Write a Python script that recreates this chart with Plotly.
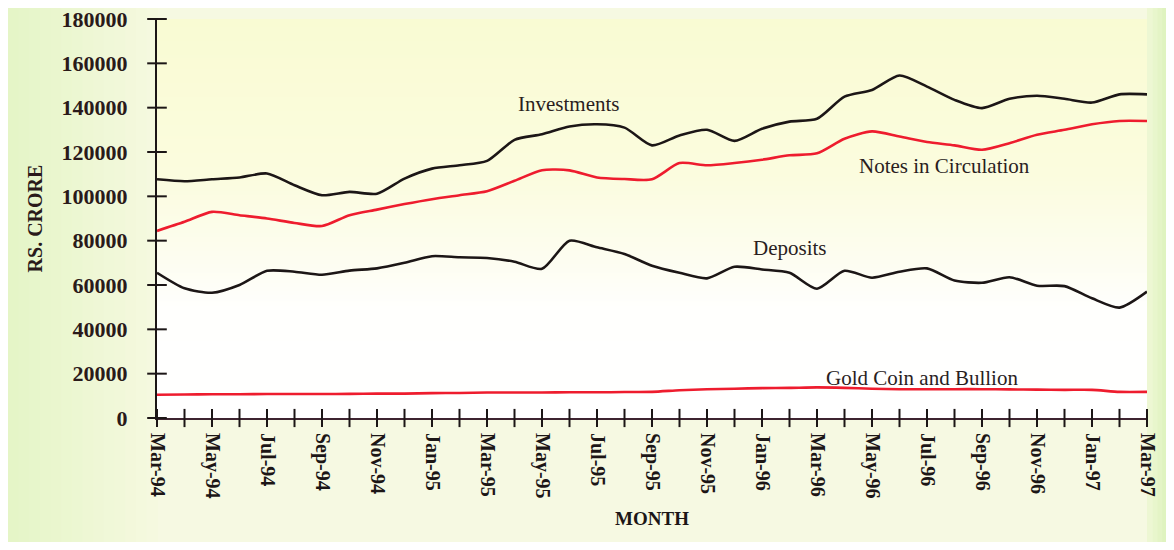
import plotly.graph_objects as go

months = ['Mar-94', 'Apr-94', 'May-94', 'Jun-94', 'Jul-94', 'Aug-94', 'Sep-94', 'Oct-94', 'Nov-94',
          'Dec-94', 'Jan-95', 'Feb-95', 'Mar-95', 'Apr-95', 'May-95', 'Jun-95', 'Jul-95', 'Aug-95',
          'Sep-95', 'Oct-95', 'Nov-95', 'Dec-95', 'Jan-96', 'Feb-96', 'Mar-96', 'Apr-96', 'May-96',
          'Jun-96', 'Jul-96', 'Aug-96', 'Sep-96', 'Oct-96', 'Nov-96', 'Dec-96', 'Jan-97', 'Feb-97',
          'Mar-97']

investments = [107700, 106800, 107700, 108500, 110300, 105000, 100500, 102000, 101200, 108000,
               112500, 114000, 116000, 125500, 128000, 131500, 132500, 131000, 123000, 127500,
               130000, 125000, 130500, 133700, 135000, 145000, 148000, 154500, 149500, 143500,
               139800, 144000, 145400, 144000, 142300, 146000, 146000]

notes = [84400, 88500, 93000, 91500, 90000, 88000, 86600, 91500, 94000, 96500,
         98700, 100500, 102300, 107000, 111800, 111700, 108500, 107800, 107700, 115000,
         114000, 115000, 116500, 118500, 119400, 126000, 129300, 127000, 124500, 123000,
         121000, 124000, 127800, 130000, 132500, 134000, 134000]

deposits = [65500, 58500, 56500, 60000, 66400, 66000, 64600, 66500, 67500, 70000,
            73000, 72500, 72200, 70500, 67300, 80000, 77000, 74000, 68700, 65500,
            63000, 68200, 67000, 65500, 58300, 66400, 63300, 66000, 67500, 62000,
            61000, 63500, 59700, 59500, 54000, 49800, 57000]

gold = [10500, 10600, 10700, 10700, 10800, 10800, 10800, 10900, 11000, 11000,
        11200, 11300, 11500, 11500, 11500, 11600, 11600, 11700, 11800, 12500,
        13000, 13200, 13500, 13600, 13800, 13600, 13200, 13000, 13000, 13000,
        13000, 12900, 12800, 12700, 12700, 11800, 11800]

y_ticks = [0, 20000, 40000, 60000, 80000, 100000, 120000, 140000, 160000, 180000]
y_tick_text = ['0', '20000', '40000', '60000', '80000', '100000', '120000', '140000',
               '160000', '180000']

series_labels = ['Investments', 'Notes in Circulation', 'Deposits', 'Gold Coin and Bullion']
label_x = [14.95, 28.65, 23.0, 27.8]
label_y = [141800, 113600, 76700, 17900]

xi = list(range(len(months)))
tick_text = [m if i % 2 == 0 else '' for i, m in enumerate(months)]

SERIF = 'Liberation Serif'
DARK = '#1c1616'
RED = '#ee1c2e'

W, H = 1158, 534
ML, MR, MT, MB = 149, 19, 11, 124
PW, PH = W - ML - MR, H - MT - MB


def mix(c1, c2, t):
    a = [int(c1[i:i + 2], 16) for i in (1, 3, 5)]
    b = [int(c2[i:i + 2], 16) for i in (1, 3, 5)]
    return '#' + ''.join('%02x' % round(a[k] + (b[k] - a[k]) * t) for k in range(3))


# paper background: greenish side strips fading into cream (scanned page look)
shapes = []
n = 14
for k in range(n):
    x0 = k * ML / n
    x1 = (k + 1) * ML / n + 1
    shapes.append(dict(type='rect', xref='paper', yref='paper', layer='below', line_width=0,
                       x0=(x0 - ML) / PW, x1=(x1 - ML) / PW, y0=-MB / PH, y1=1 + MT / PH,
                       fillcolor=mix('#e5f5c7', '#f5f9df', k / (n - 1))))
for k in range(4):
    x0 = W - (k + 1) * MR / 4
    x1 = W - k * MR / 4 + 1
    shapes.append(dict(type='rect', xref='paper', yref='paper', layer='below', line_width=0,
                       x0=(x0 - ML) / PW, x1=(x1 - ML) / PW, y0=-MB / PH, y1=1 + MT / PH,
                       fillcolor=mix('#dff3bf', '#edf7d3', k / 3)))

fig = go.Figure()

# background gradient of the plot area (pale yellow fading to white)
fig.add_trace(go.Heatmap(
    x=[0, 36], y=[0, 50000, 72000, 110000, 180000],
    z=[[0, 0], [0.05, 0.05], [0.35, 0.35], [0.8, 0.8], [1, 1]],
    colorscale=[[0, '#ffffff'], [0.35, '#fdfdf0'], [0.8, '#fbfcde'], [1, '#f9fbd3']],
    zsmooth='best', showscale=False, hoverinfo='skip'))

line_w = 2.6
fig.add_trace(go.Scatter(x=xi, y=investments, mode='lines', name='Investments',
                         line=dict(color=DARK, width=line_w, shape='spline', smoothing=0.7)))
fig.add_trace(go.Scatter(x=xi, y=notes, mode='lines', name='Notes in Circulation',
                         line=dict(color=RED, width=line_w, shape='spline', smoothing=0.7)))
fig.add_trace(go.Scatter(x=xi, y=deposits, mode='lines', name='Deposits',
                         line=dict(color=DARK, width=line_w, shape='spline', smoothing=0.7)))
fig.add_trace(go.Scatter(x=xi, y=gold, mode='lines', name='Gold Coin and Bullion',
                         line=dict(color=RED, width=line_w, shape='spline', smoothing=0.7)))

# cross-shaped tick marks straddling both axes
fig.add_trace(go.Scatter(x=xi, y=[0] * len(xi), mode='markers', cliponaxis=False,
                         hoverinfo='skip', showlegend=False,
                         marker=dict(symbol='line-ns-open', size=13, color=DARK,
                                     line=dict(color=DARK, width=2))))
fig.add_trace(go.Scatter(x=[0] * len(y_ticks), y=y_ticks, mode='markers', cliponaxis=False,
                         hoverinfo='skip', showlegend=False,
                         marker=dict(symbol='line-ew-open', size=14, color=DARK,
                                     line=dict(color=DARK, width=2))))

for t, ax, ay in zip(series_labels, label_x, label_y):
    fig.add_annotation(x=ax, y=ay, text=t, showarrow=False,
                       font=dict(family=SERIF, size=21, color='#2a1e1e'))

fig.update_layout(
    width=W, height=H,
    margin=dict(l=ML, r=MR, t=MT, b=MB, autoexpand=False),
    paper_bgcolor='#f6f9e2', plot_bgcolor='#ffffff',
    showlegend=False,
    shapes=shapes,
    xaxis=dict(range=[0, 36], tickvals=xi, ticktext=tick_text, tickangle=90,
               ticks='', automargin=False, ticklabeloverflow='allow', ticklabelstandoff=9,
               showline=True, linecolor='#3e2430', linewidth=2, showgrid=False, zeroline=False,
               layer='below traces',
               tickfont=dict(family=SERIF, size=20, color=DARK, weight='bold'),
               title=dict(text='<b>MONTH</b>', standoff=14,
                          font=dict(family=SERIF, size=19, color=DARK))),
    yaxis=dict(range=[0, 180000], tickvals=y_ticks, ticktext=y_tick_text,
               ticks='', automargin=False, ticklabeloverflow='allow',
               showline=True, linecolor=DARK, linewidth=2, showgrid=False,
               zeroline=False, ticklabelstandoff=23, layer='below traces',
               tickfont=dict(family=SERIF, size=22, color='#2a1a1a', weight='bold'),
               title=dict(text='<b>RS. CRORE</b>', standoff=14,
                          font=dict(family=SERIF, size=20, color='#2a1a1a'))),
)

fig.write_html('out.html')
